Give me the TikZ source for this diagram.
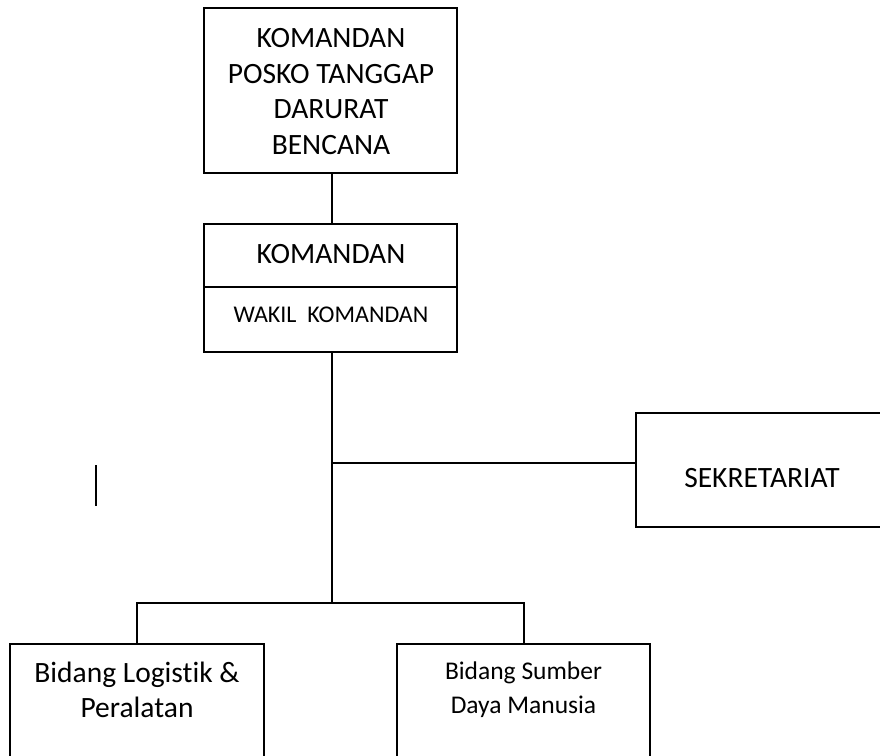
\documentclass[tikz,border=0pt]{standalone}
\usepackage{fontspec}
\setmainfont{Carlito}[Ligatures=NoCommon]
\begin{document}
\begin{tikzpicture}[x=1pt,y=-1pt,
  box/.style={draw,line width=1.8pt,rectangle,inner sep=0pt},
  conn/.style={line width=2pt},
  big/.style={font=\fontsize{29.5}{35.5}\selectfont,align=center,inner sep=0pt},
  mid/.style={font=\fontsize{25.5}{34}\selectfont,align=center,inner sep=0pt},
  small/.style={font=\fontsize{24}{28}\selectfont,align=center,inner sep=0pt}]
\clip (0,0) rectangle (880,755);
\fill[white] (0,0) rectangle (880,755);
% boxes
\node[box,minimum width=253pt,minimum height=165pt] (top) at (330.5,90.5) {};
\node[big] (toptxt) at (331,91.5) {KOMANDAN\\POSKO TANGGAP\\DARURAT\\BENCANA};
\node[box,minimum width=253pt,minimum height=128pt] (kom) at (330.5,288) {};
\draw[conn] (kom.west |- 0,287) -- (kom.east |- 0,287);
\node[big] (komtxt) at (331,254) {KOMANDAN};
\node[small] (wakil) at (331,314.5) {WAKIL\ \ KOMANDAN};
\node[box,minimum width=254pt,minimum height=114pt] (sek) at (763,470) {};
\node[big] (sektxt) at (762,478) {SEKRETARIAT};
\node[box,minimum width=254pt,minimum height=140pt,anchor=north] (log) at (137,643) {};
\node[big] (logtxt) at (137,690) {Bidang Logistik \&\\Peralatan};
\node[box,minimum width=253pt,minimum height=140pt,anchor=north] (sdm) at (523.5,643) {};
\node[mid] (sdmtxt) at (523.5,689.5) {Bidang Sumber\\Daya Manusia};
% junctions
\coordinate (j1) at (332,603);
\coordinate (j2) at (332,463);
% connectors
\draw[conn] (j1 |- top.south) -- (j1 |- kom.north);
\draw[conn] (j1 |- kom.south) -- (j1);
\draw[conn] (j2) -- (j2 -| sek.west);
\draw[conn] (log.north) |- (j1) -| (sdm.north);
% stray mark
\draw[line width=2pt] (96,465) -- (96,506);
\end{tikzpicture}
\end{document}
